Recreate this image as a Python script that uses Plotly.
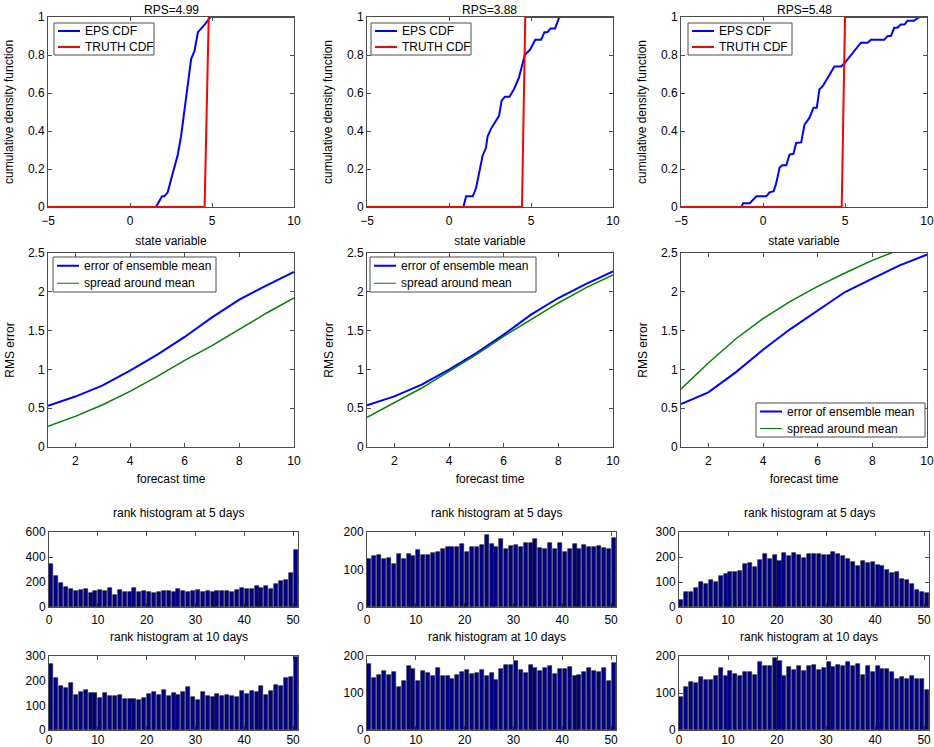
import plotly.graph_objects as go

W, H = 934, 747
FONT = "Liberation Sans, Arial, Helvetica, sans-serif"

# ---------------- data ----------------
rps_titles = ["RPS=4.99", "RPS=3.88", "RPS=5.48"]

# ensemble (EPS) CDF curves
eps_x_1 = [-5, 1.58, 1.68, 1.95, 2.09, 2.30, 2.50, 2.91, 3.11, 3.36, 3.57, 3.73,
           3.93, 4.14, 4.55, 4.75, 4.92, 10]
eps_y_1 = [0, 0, 0.014, 0.056, 0.056, 0.077, 0.143, 0.274, 0.37, 0.53, 0.67, 0.78,
           0.82, 0.92, 0.96, 0.98, 1, 1]

eps_x_2 = [-5, 0.88, 1.04, 1.45, 1.65, 1.85, 2.05, 2.25, 2.35, 2.55, 2.85, 3.05,
           3.21, 3.41, 3.69, 3.96, 4.26, 4.62, 4.96, 5.26, 5.62, 5.82, 6.0, 6.2,
           6.47, 6.73, 10]
eps_y_2 = [0, 0, 0.056, 0.056, 0.1, 0.18, 0.27, 0.31, 0.37, 0.41, 0.45, 0.48,
           0.56, 0.58, 0.58, 0.62, 0.68, 0.80, 0.83, 0.88, 0.88, 0.92, 0.92, 0.94,
           0.94, 1, 1]

eps_x_3 = [-5, -1.32, -1.21, -0.81, -0.40, 0.2, 0.40, 0.65, 0.81, 1.01, 1.17, 1.42,
           1.62, 1.86, 2.02, 2.33, 2.53, 2.83, 3.08, 3.28, 3.44, 3.64, 3.95, 4.15,
           4.35, 4.76, 5.0, 5.97, 6.38, 6.58, 7.39, 7.6, 7.8, 8.0, 8.2, 8.4, 8.64,
           8.8, 9.2, 9.55, 10]
eps_y_3 = [0, 0, 0.02, 0.02, 0.056, 0.056, 0.077, 0.083, 0.127, 0.206, 0.22, 0.22,
           0.276, 0.28, 0.337, 0.34, 0.434, 0.469, 0.522, 0.522, 0.62, 0.636, 0.68,
           0.707, 0.74, 0.74, 0.76, 0.865, 0.865, 0.88, 0.88, 0.9, 0.9, 0.943, 0.943,
           0.96, 0.96, 0.98, 0.98, 1, 1]

# truth CDF (a step at the verifying value)
truth_x_1 = [-5, 4.55, 4.8, 10]
truth_x_2 = [-5, 4.45, 4.65, 10]
truth_x_3 = [-5, 4.8, 5.0, 10]
truth_y = [0, 0, 1, 1]

# RMS error vs forecast time
forecast_time = [1, 2, 3, 4, 5, 6, 7, 8, 9, 10]
err_1 = [0.53, 0.65, 0.795, 0.984, 1.19, 1.418, 1.671, 1.899, 2.083, 2.255]
spread_1 = [0.266, 0.395, 0.545, 0.717, 0.911, 1.117, 1.306, 1.52, 1.727, 1.92]
err_2 = [0.537, 0.653, 0.803, 0.997, 1.211, 1.448, 1.705, 1.92, 2.10, 2.264]
spread_2 = [0.382, 0.567, 0.76, 0.975, 1.19, 1.426, 1.64, 1.856, 2.05, 2.216]
err_3 = [0.554, 0.704, 0.962, 1.254, 1.52, 1.761, 1.997, 2.17, 2.341, 2.479]
spread_3 = [0.747, 1.082, 1.392, 1.654, 1.877, 2.07, 2.242, 2.405, 2.543, 2.68]

# rank histograms (51 bins)
rank_bins = [k + 0.5 for k in range(51)]
hist5_1 = [343, 249, 195, 159, 146, 130, 138, 146, 116, 127, 135, 127, 149, 95, 135,
           119, 124, 151, 119, 130, 124, 111, 122, 130, 127, 122, 146, 130, 119, 132,
           135, 119, 130, 122, 130, 132, 130, 124, 138, 151, 141, 146, 165, 154, 165,
           141, 186, 205, 216, 276, 454]
hist10_1 = [266, 212, 178, 169, 189, 142, 153, 162, 149, 150, 130, 149, 138, 138, 143,
            124, 124, 127, 122, 130, 145, 155, 142, 164, 138, 149, 141, 155, 173, 132,
            120, 154, 138, 132, 145, 138, 141, 139, 134, 157, 146, 157, 154, 177, 143,
            158, 181, 178, 212, 214, 297]
hist5_2 = [128, 135, 138, 127, 131, 115, 141, 128, 141, 137, 152, 138, 140, 143, 147,
           155, 159, 160, 160, 168, 148, 159, 160, 165, 191, 168, 160, 181, 155, 164,
           166, 160, 170, 172, 181, 157, 155, 170, 155, 172, 148, 156, 168, 156, 165,
           159, 159, 164, 158, 156, 183]
hist10_2 = [178, 141, 149, 160, 149, 158, 117, 133, 174, 164, 132, 159, 155, 147, 168,
            147, 147, 137, 150, 156, 161, 151, 153, 163, 147, 155, 135, 164, 177, 175,
            186, 162, 155, 176, 167, 159, 168, 174, 151, 164, 164, 169, 145, 150, 156,
            168, 160, 158, 167, 133, 181]
hist5_3 = [27, 61, 62, 78, 101, 92, 107, 100, 126, 131, 142, 142, 145, 173, 176, 162,
           189, 214, 192, 208, 185, 216, 205, 218, 209, 196, 211, 211, 214, 209, 209,
           220, 212, 205, 193, 180, 165, 184, 177, 181, 169, 164, 149, 135, 141, 112,
           107, 92, 68, 61, 58]
hist10_3 = [88, 116, 130, 127, 144, 134, 134, 146, 168, 145, 159, 152, 147, 156, 156,
            150, 183, 172, 172, 194, 186, 147, 171, 163, 173, 159, 172, 177, 161, 168,
            185, 171, 176, 174, 185, 173, 178, 149, 174, 156, 174, 165, 165, 157, 139,
            144, 139, 146, 137, 138, 109]

# --------------------------------------------------------------------
eps_x = [eps_x_1, eps_x_2, eps_x_3]
eps_y = [eps_y_1, eps_y_2, eps_y_3]
truth_x = [truth_x_1, truth_x_2, truth_x_3]
errs = [err_1, err_2, err_3]
spreads = [spread_1, spread_2, spread_3]
hist5 = [hist5_1, hist5_2, hist5_3]
hist10 = [hist10_1, hist10_2, hist10_3]

# pixel boxes of the axes, converted to paper coordinates
col_px = [(48, 294), (367, 613), (681, 927)]
hist_col_px = [(49, 298), (367, 616), (679, 929)]
row_px = [(17, 207), (253, 447), (532, 607), (656, 730)]

# MATLAB-like legend boxes: (left, top, right, bottom) in pixels
cdf_legend_box = [(54, 23, 154, 55), (371, 23, 471, 55), (688, 23, 792, 55)]
rms_legend_box = [(53, 257, 216, 292), (370, 257, 536, 292), (756, 403, 925, 437)]


def xdom(a, b):
    return [a / W, b / W]


def ydom(top, bottom):
    return [1 - bottom / H, 1 - top / H]


def px(x):
    return x / W


def py(y):
    return 1 - y / H


shapes = []
annotations = []


def add_legend(box, entries):
    """Draw a boxed legend (MATLAB style) from shapes and text annotations."""
    left, top, right, bottom = box
    shapes.append(dict(type="rect", xref="paper", yref="paper",
                       x0=px(left), x1=px(right), y0=py(bottom), y1=py(top),
                       fillcolor="white", line=dict(color="#4d4d4d", width=1)))
    row_h = (bottom - top) / len(entries)
    for i, (label, color, width) in enumerate(entries):
        yc = top + row_h * (i + 0.5)
        shapes.append(dict(type="line", xref="paper", yref="paper",
                           x0=px(left + 4), x1=px(left + 26), y0=py(yc), y1=py(yc),
                           line=dict(color=color, width=width)))
        annotations.append(dict(text=label, x=px(left + 29), y=py(yc), xref="paper",
                                yref="paper", showarrow=False, xanchor="left",
                                yanchor="middle", font=dict(size=12)))


axis_style = dict(
    showline=True,
    linecolor="#4d4d4d",
    linewidth=1,
    mirror="ticks",
    ticks="inside",
    ticklen=4,
    tickcolor="#4d4d4d",
    showgrid=False,
    zeroline=False,
    automargin=False,
    tickfont=dict(size=12, color="black", family=FONT),
    layer="below traces",
)

fig = go.Figure()
layout = {}

for c in range(3):
    # --- row 1: CDFs ---
    n = 0 * 3 + c + 1
    sfx = "" if n == 1 else str(n)
    fig.add_trace(go.Scatter(x=eps_x[c], y=eps_y[c], mode="lines", name="EPS CDF",
                             line=dict(color="#0000ff", width=2), showlegend=False,
                             xaxis="x" + sfx, yaxis="y" + sfx))
    fig.add_trace(go.Scatter(x=truth_x[c], y=truth_y, mode="lines", name="TRUTH CDF",
                             line=dict(color="#ff0000", width=2), showlegend=False,
                             xaxis="x" + sfx, yaxis="y" + sfx))
    layout["xaxis" + sfx] = dict(axis_style, domain=xdom(*col_px[c]), anchor="y" + sfx,
                                 range=[-5, 10], tickvals=[-5, 0, 5, 10],
                                 ticklabelstandoff=3,
                                 title=dict(text="state variable", font=dict(size=12),
                                            standoff=9))
    layout["yaxis" + sfx] = dict(axis_style, domain=ydom(*row_px[0]), anchor="x" + sfx,
                                 range=[0, 1], dtick=0.2,
                                 title=dict(text="cumulative density function",
                                            font=dict(size=12), standoff=11))
    add_legend(cdf_legend_box[c], [("EPS CDF", "#0000ff", 2),
                                   ("TRUTH CDF", "#ff0000", 2)])
    annotations.append(dict(text=rps_titles[c], x=px(sum(col_px[c]) / 2), y=py(10),
                            xref="paper", yref="paper", showarrow=False,
                            xanchor="center", yanchor="middle", font=dict(size=12)))

    # --- row 2: RMS error ---
    n = 1 * 3 + c + 1
    sfx = str(n)
    fig.add_trace(go.Scatter(x=forecast_time, y=errs[c], mode="lines",
                             name="error of ensemble mean", showlegend=False,
                             line=dict(color="#0000ff", width=2),
                             xaxis="x" + sfx, yaxis="y" + sfx))
    fig.add_trace(go.Scatter(x=forecast_time, y=spreads[c], mode="lines",
                             name="spread around mean", showlegend=False,
                             line=dict(color="#008000", width=1.5),
                             xaxis="x" + sfx, yaxis="y" + sfx))
    layout["xaxis" + sfx] = dict(axis_style, domain=xdom(*col_px[c]), anchor="y" + sfx,
                                 range=[1, 10], tickvals=[2, 4, 6, 8, 10],
                                 ticklabelstandoff=3,
                                 title=dict(text="forecast time", font=dict(size=12),
                                            standoff=7))
    layout["yaxis" + sfx] = dict(axis_style, domain=ydom(*row_px[1]), anchor="x" + sfx,
                                 range=[0, 2.5], dtick=0.5,
                                 title=dict(text="RMS error", font=dict(size=12),
                                            standoff=10))
    add_legend(rms_legend_box[c], [("error of ensemble mean", "#0000ff", 2),
                                   ("spread around mean", "#008000", 1)])

    # --- rows 3 and 4: rank histograms ---
    for r, data, top, dt, label, stand in [
            (2, hist5[c], [600, 200, 300][c], [200, 100, 100][c],
             "rank histogram at 5 days", 2),
            (3, hist10[c], [300, 200, 200][c], 100,
             "rank histogram at 10 days", -1)]:
        n = r * 3 + c + 1
        sfx = str(n)
        fig.add_trace(go.Bar(x=rank_bins, y=data, width=0.82, showlegend=False,
                             marker=dict(color="#00008f",
                                         line=dict(color="#1a1a1a", width=0.6)),
                             xaxis="x" + sfx, yaxis="y" + sfx))
        layout["xaxis" + sfx] = dict(axis_style, domain=xdom(*hist_col_px[c]),
                                     anchor="y" + sfx, range=[0, 51],
                                     tickvals=[0, 10, 20, 30, 40, 50],
                                     ticklabelstandoff=stand)
        layout["yaxis" + sfx] = dict(axis_style, domain=ydom(*row_px[r]),
                                     anchor="x" + sfx, range=[0, top], dtick=dt)
        annotations.append(dict(text=label, x=px(sum(hist_col_px[c]) / 2 + 5),
                                y=py(row_px[r][0] - 19), xref="paper",
                                yref="paper", showarrow=False, xanchor="center",
                                yanchor="middle", font=dict(size=12)))

fig.update_layout(**layout)
fig.update_layout(
    width=W,
    height=H,
    margin=dict(l=0, r=0, t=0, b=0),
    paper_bgcolor="white",
    plot_bgcolor="white",
    font=dict(family=FONT, size=12, color="black"),
    showlegend=False,
    shapes=shapes,
    annotations=annotations,
    bargap=0,
)

# the page body has a default 8px margin; drop it so the figure sits at 0,0
fig.write_html("out.html", config={"displayModeBar": False},
               post_script="document.body.style.margin = '0px';")
